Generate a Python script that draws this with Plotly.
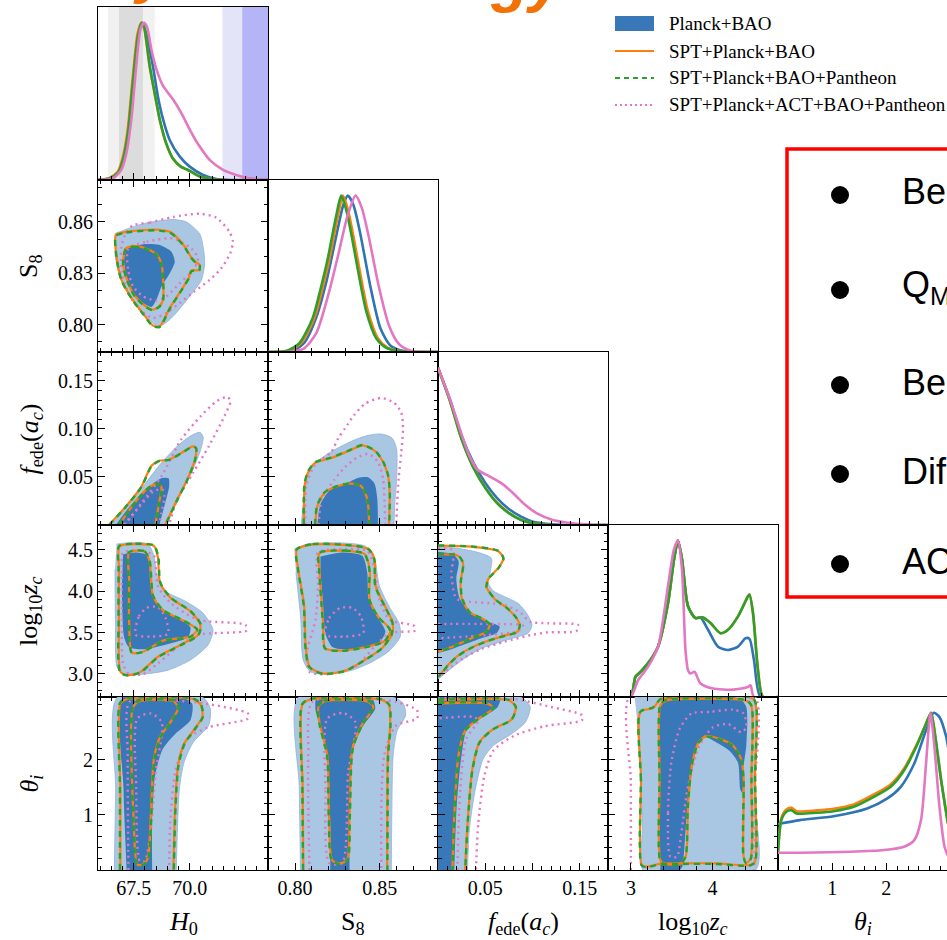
import plotly.graph_objects as go

# ======================= DATA =======================
# --- 1D marginal posteriors (x, normalised density) ---
H0_PDF_PB = [(65.9,0.0),(66.4,0.01),(66.8,0.045),(67.02,0.13),(67.24,0.3),(67.46,0.62),(67.69,0.92),(67.88,1.0),(68.02,0.95),(68.14,0.88),(68.36,0.72),(68.58,0.53),(68.81,0.385),(69.1,0.256),(69.55,0.15),(70.0,0.085),(70.6,0.032),(71.2,0.006),(71.8,0.0),(73.5,0.0)]
H0_PDF_SPT = [(65.9,0.0),(66.4,0.012),(66.77,0.05),(67.0,0.14),(67.22,0.31),(67.44,0.63),(67.67,0.93),(67.84,1.0),(67.96,0.97),(68.06,0.88),(68.21,0.72),(68.43,0.55),(68.66,0.38),(68.95,0.23),(69.25,0.135),(69.6,0.085),(69.9,0.065),(70.1,0.05),(70.4,0.025),(70.9,0.008),(71.5,0.0),(73.5,0.0)]
H0_PDF_PANT = [(65.9,0.0),(66.42,0.011),(66.79,0.045),(67.02,0.13),(67.24,0.3),(67.46,0.62),(67.69,0.92),(67.85,1.0),(67.97,0.97),(68.07,0.88),(68.22,0.72),(68.44,0.55),(68.67,0.38),(68.96,0.23),(69.26,0.135),(69.6,0.085),(69.9,0.065),(70.1,0.05),(70.4,0.025),(70.9,0.008),(71.5,0.0),(73.5,0.0)]
H0_PDF_ACT = [(65.9,0.0),(66.57,0.011),(66.94,0.064),(67.17,0.171),(67.39,0.385),(67.61,0.726),(67.8,0.96),(67.96,1.0),(68.1,0.97),(68.28,0.833),(68.51,0.705),(68.81,0.598),(69.25,0.513),(69.62,0.427),(70.0,0.321),(70.44,0.214),(70.89,0.128),(71.49,0.064),(72.08,0.032),(72.68,0.011),(73.5,0.0)]

S8_PDF_PB = [(0.784,0.0),(0.7985,0.008),(0.8055,0.06),(0.8125,0.22),(0.8185,0.45),(0.8245,0.75),(0.8285,0.94),(0.8312,1.0),(0.8345,0.94),(0.8385,0.76),(0.8445,0.42),(0.8505,0.15),(0.8565,0.04),(0.8635,0.008),(0.872,0.0),(0.8845,0.0)]
S8_PDF_SPT = [(0.784,0.0),(0.7955,0.006),(0.8036,0.057),(0.8115,0.22),(0.816,0.40),(0.82,0.58),(0.8253,0.87),(0.8283,1.0),(0.8312,0.91),(0.8345,0.74),(0.8372,0.58),(0.8431,0.26),(0.849,0.087),(0.8549,0.026),(0.8628,0.004),(0.869,0.0),(0.8845,0.0)]
S8_PDF_PANT = [(0.784,0.0),(0.7945,0.006),(0.8026,0.057),(0.8105,0.22),(0.815,0.40),(0.819,0.58),(0.8243,0.87),(0.8273,1.0),(0.8302,0.91),(0.8335,0.74),(0.8362,0.58),(0.8421,0.26),(0.848,0.087),(0.8539,0.026),(0.8618,0.004),(0.868,0.0),(0.8845,0.0)]
S8_PDF_ACT = [(0.784,0.0),(0.795,0.0),(0.805,0.02),(0.8125,0.12),(0.8195,0.36),(0.8255,0.62),(0.831,0.87),(0.8358,1.0),(0.8395,0.92),(0.8435,0.74),(0.8495,0.42),(0.8555,0.17),(0.8615,0.05),(0.868,0.01),(0.875,0.0),(0.8845,0.0)]

FEDE_PDF_PB = [(0.0,1.0),(0.0126,0.8),(0.0251,0.564),(0.0377,0.394),(0.0503,0.266),(0.0628,0.17),(0.0754,0.1),(0.088,0.053),(0.1006,0.021),(0.1173,0.006),(0.134,0.0),(0.18,0.0)]
FEDE_PDF_SPT = [(0.0,1.0),(0.0126,0.79),(0.0251,0.545),(0.0377,0.364),(0.0503,0.236),(0.0628,0.14),(0.0754,0.076),(0.088,0.033),(0.1006,0.011),(0.1215,0.0),(0.18,0.0)]
FEDE_PDF_PANT = [(0.0,1.0),(0.0126,0.79),(0.0251,0.543),(0.0377,0.362),(0.0503,0.234),(0.0628,0.138),(0.0754,0.074),(0.088,0.032),(0.1006,0.011),(0.1215,0.0),(0.18,0.0)]
FEDE_PDF_ACT = [(0.0,1.0),(0.0126,0.8),(0.0251,0.574),(0.0335,0.436),(0.0419,0.351),(0.0545,0.309),(0.067,0.266),(0.0796,0.202),(0.0922,0.128),(0.1048,0.074),(0.1215,0.032),(0.1425,0.011),(0.1634,0.002),(0.18,0.0)]

ZC_PDF_PB = [(2.72,0.0),(2.995,0.0),(3.056,0.129),(3.118,0.161),(3.209,0.215),(3.332,0.322),(3.454,0.601),(3.528,0.881),(3.576,1.0),(3.625,0.881),(3.699,0.58),(3.79,0.505),(3.85,0.51),(3.944,0.43),(4.066,0.322),(4.188,0.301),(4.311,0.322),(4.403,0.376),(4.451,0.372),(4.506,0.236),(4.586,0.0),(4.8,0.0)]
ZC_PDF_SPT = [(2.72,0.0),(2.995,0.0),(3.056,0.129),(3.118,0.161),(3.209,0.215),(3.332,0.322),(3.454,0.601),(3.528,0.881),(3.576,1.0),(3.625,0.881),(3.699,0.58),(3.79,0.505),(3.882,0.509),(3.974,0.473),(4.097,0.408),(4.188,0.43),(4.311,0.516),(4.433,0.644),(4.451,0.655),(4.494,0.537),(4.555,0.172),(4.617,0.0),(4.8,0.0)]
ZC_PDF_PANT = [(2.72,0.0),(2.995,0.0),(3.056,0.129),(3.118,0.161),(3.209,0.215),(3.332,0.322),(3.454,0.601),(3.528,0.881),(3.576,1.0),(3.625,0.881),(3.699,0.58),(3.79,0.505),(3.882,0.509),(3.974,0.473),(4.097,0.408),(4.188,0.43),(4.311,0.516),(4.433,0.644),(4.451,0.655),(4.494,0.537),(4.555,0.172),(4.617,0.0),(4.8,0.0)]
ZC_PDF_ACT = [(2.72,0.0),(2.995,0.0),(3.087,0.107),(3.209,0.193),(3.332,0.322),(3.454,0.709),(3.528,0.945),(3.576,1.0),(3.625,0.816),(3.668,0.3),(3.7,0.17),(3.729,0.15),(3.778,0.161),(3.852,0.086),(4.005,0.054),(4.25,0.047),(4.433,0.064),(4.464,0.075),(4.506,0.0),(4.8,0.0)]

TH_PDF_PB = [(0.0,0.292),(0.404,0.317),(1.025,0.342),(1.646,0.391),(2.019,0.455),(2.267,0.529),(2.516,0.677),(2.733,0.888),(2.876,1.0),(2.981,0.972),(3.106,0.846),(3.14,0.78)]
TH_PDF_SPT = [(0.0,0.11),(0.062,0.33),(0.155,0.385),(0.248,0.395),(0.342,0.374),(0.714,0.379),(1.025,0.389),(1.398,0.417),(1.77,0.48),(2.081,0.544),(2.329,0.645),(2.578,0.81),(2.733,0.93),(2.826,1.0),(2.888,0.888),(3.012,0.571),(3.137,0.296)]
TH_PDF_PANT = [(0.0,0.106),(0.062,0.317),(0.155,0.37),(0.248,0.38),(0.342,0.359),(0.714,0.364),(1.025,0.374),(1.398,0.402),(1.77,0.465),(2.081,0.529),(2.329,0.634),(2.578,0.803),(2.733,0.93),(2.826,1.0),(2.888,0.888),(3.012,0.571),(3.137,0.296)]
TH_PDF_ACT = [(0.0,0.11),(0.404,0.11),(1.335,0.116),(1.957,0.127),(2.329,0.148),(2.516,0.19),(2.64,0.317),(2.733,0.677),(2.814,1.0),(2.888,0.782),(2.981,0.402),(3.075,0.148),(3.143,0.085)]

# --- 2D contours: (x, y) vertices; PB = Planck+BAO, SPT = SPT+Planck+BAO,
#     PANT = SPT+Planck+BAO+Pantheon, ACT = SPT+Planck+ACT+BAO+Pantheon ---
H0S8_PB_2S = [(66.65,0.8532),(67.92,0.859),(69.26,0.8614),(69.85,0.86),(70.45,0.853),(70.6,0.8455),(70.67,0.8358),(70.52,0.826),(70.0,0.8165),(69.26,0.8049),(68.81,0.80),(68.51,0.7994),(68.07,0.8049),(67.47,0.8145),(66.87,0.828),(66.65,0.8416)]
H0S8_PB_1S = [(67.17,0.8445),(67.92,0.847),(68.66,0.8465),(69.18,0.8426),(69.33,0.8368),(69.11,0.83),(68.74,0.8223),(68.51,0.8145),(68.29,0.8103),(67.92,0.8126),(67.47,0.8184),(67.17,0.8281),(67.05,0.8377)]
H0S8_SPT_2S = [(66.7,0.8523),(67.17,0.8542),(67.92,0.8552),(68.51,0.8555),(69.11,0.8542),(69.4,0.8513),(69.78,0.8455),(70.07,0.8393),(70.3,0.8362),(70.45,0.8348),(70.42,0.8319),(70.07,0.8316),(69.97,0.8277),(69.63,0.8203),(69.11,0.8097),(68.66,0.799),(68.36,0.7994),(67.92,0.8064),(67.4,0.8155),(66.95,0.8261),(66.73,0.8397)]
H0S8_SPT_1S = [(67.14,0.8445),(67.47,0.8459),(67.92,0.8451),(68.51,0.8412),(68.74,0.8354),(68.81,0.8261),(68.81,0.8145),(68.66,0.811),(68.36,0.8087),(68.07,0.8103),(67.54,0.8169),(67.2,0.8261),(67.02,0.8358)]
H0S8_PANT_2S = [(66.7,0.8518),(67.17,0.8538),(67.92,0.8548),(68.51,0.8551),(69.11,0.8538),(69.4,0.8509),(69.78,0.8451),(70.07,0.8389),(70.3,0.8358),(70.45,0.8344),(70.42,0.8315),(70.07,0.8312),(69.97,0.8273),(69.63,0.82),(69.11,0.8094),(68.66,0.7987),(68.36,0.7991),(67.92,0.8061),(67.4,0.8152),(66.95,0.8258),(66.73,0.8394)]
H0S8_PANT_1S = [(67.14,0.8441),(67.47,0.8455),(67.92,0.8447),(68.51,0.8408),(68.74,0.835),(68.81,0.8258),(68.81,0.8142),(68.66,0.8107),(68.36,0.8084),(68.07,0.81),(67.54,0.8166),(67.2,0.8258),(67.02,0.8354)]
H0S8_ACT_2S = [(67.47,0.8581),(68.21,0.8596),(69.26,0.8629),(70.45,0.8648),(71.19,0.8625),(71.78,0.8542),(71.93,0.8484),(71.81,0.8416),(71.41,0.8329),(70.89,0.8261),(70.22,0.8194),(69.55,0.8126),(68.96,0.8068),(68.36,0.8039),(67.77,0.8087),(67.25,0.8184),(66.95,0.8319),(66.95,0.8455),(67.17,0.8542)]
H0S8_ACT_1S = [(67.25,0.8445),(68.07,0.8484),(69.26,0.8503),(70.07,0.8445),(70.37,0.8387),(70.15,0.8319),(69.55,0.8242),(68.96,0.8165),(68.51,0.8141),(67.92,0.8165),(67.47,0.8223),(67.25,0.8319)]

H0FEDE_PB_2S = [(66.52,0.0),(67.31,0.0226),(68.02,0.0435),(68.73,0.0644),(69.43,0.0818),(70.05,0.0929),(70.46,0.0964),(70.6,0.0915),(70.49,0.0783),(70.14,0.0574),(69.7,0.0365),(69.26,0.0157),(68.99,0.0)]
H0FEDE_PB_1S = [(66.7,0.0),(67.31,0.0191),(68.02,0.0365),(68.73,0.0487),(69.05,0.0487),(69.08,0.04),(68.9,0.0226),(68.64,0.0)]
H0FEDE_SPT_2S = [(66.39,0.0),(67.14,0.0191),(67.84,0.04),(68.29,0.0616),(68.64,0.0668),(69.08,0.0679),(69.61,0.0748),(70.14,0.0818),(70.28,0.08),(70.23,0.0679),(69.88,0.047),(69.43,0.0261),(68.9,0.0)]
H0FEDE_SPT_1S = [(66.84,0.0),(67.58,0.0244),(68.16,0.039),(68.55,0.0428),(68.73,0.04),(68.64,0.0244),(68.46,0.0)]
H0FEDE_PANT_2S = [(66.4,0.0),(67.15,0.0191),(67.85,0.04),(68.3,0.0614),(68.65,0.0666),(69.09,0.0677),(69.62,0.0746),(70.15,0.0816),(70.29,0.0798),(70.24,0.0677),(69.89,0.0468),(69.44,0.0259),(68.91,0.0)]
H0FEDE_PANT_1S = [(66.85,0.0),(67.59,0.0243),(68.17,0.0388),(68.56,0.0426),(68.74,0.0398),(68.65,0.0243),(68.47,0.0)]
H0FEDE_ACT_2S = [(67.1,0.0),(67.84,0.0226),(68.73,0.0505),(69.61,0.0887),(70.49,0.1131),(71.2,0.1288),(71.7,0.1333),(71.82,0.1288),(71.55,0.1131),(70.85,0.0818),(70.14,0.0539),(69.43,0.0261),(69.08,0.0)]
H0FEDE_ACT_1S = [(67.05,0.0),(67.76,0.0191),(68.37,0.0348),(68.76,0.0372),(68.87,0.0296),(68.73,0.0122),(68.64,0.0)]

S8FEDE_PB_2S = [(0.8037,0.0),(0.8057,0.0344),(0.8096,0.0604),(0.8195,0.0743),(0.8333,0.0871),(0.8431,0.0933),(0.851,0.0947),(0.8573,0.0906),(0.86,0.0795),(0.86,0.0482),(0.8589,0.0205),(0.8585,0.0)]
S8FEDE_PB_1S = [(0.8132,0.0),(0.8151,0.0222),(0.8214,0.0378),(0.8313,0.0441),(0.8372,0.0489),(0.8431,0.0496),(0.847,0.043),(0.8486,0.0274),(0.849,0.0)]
S8FEDE_SPT_2S = [(0.8053,0.0),(0.8057,0.0413),(0.8076,0.0545),(0.812,0.0649),(0.8214,0.0697),(0.8313,0.0767),(0.8401,0.0829),(0.8474,0.0767),(0.852,0.0656),(0.8549,0.0517),(0.8559,0.0344),(0.8555,0.0)]
S8FEDE_SPT_1S = [(0.812,0.0),(0.8132,0.0198),(0.8175,0.0337),(0.8254,0.0406),(0.8333,0.043),(0.8388,0.0406),(0.8421,0.0302),(0.8435,0.0153),(0.8437,0.0)]
S8FEDE_PANT_2S = [(0.8051,0.0),(0.8055,0.0415),(0.8074,0.0548),(0.8118,0.0652),(0.8212,0.07),(0.8311,0.077),(0.8399,0.0832),(0.8474,0.077),(0.8521,0.0658),(0.855,0.0517),(0.856,0.0344),(0.8557,0.0)]
S8FEDE_PANT_1S = [(0.8118,0.0),(0.813,0.0198),(0.8173,0.0338),(0.8252,0.0408),(0.8333,0.0432),(0.839,0.0408),(0.8423,0.0302),(0.8437,0.0153),(0.8439,0.0)]
S8FEDE_ACT_2S = [(0.8061,0.0),(0.8067,0.0413),(0.8116,0.0621),(0.8214,0.076),(0.8254,0.0899),(0.8297,0.101),(0.8348,0.1141),(0.8415,0.1263),(0.851,0.1322),(0.8585,0.1273),(0.8628,0.1169),(0.8638,0.1003),(0.8628,0.076),(0.8612,0.0482),(0.8604,0.0239),(0.8598,0.0)]
S8FEDE_ACT_1S = [(0.8139,0.0),(0.8159,0.0274),(0.8234,0.0475),(0.8297,0.0604),(0.8362,0.0697),(0.8431,0.0739),(0.849,0.0656),(0.852,0.0482),(0.8529,0.0239),(0.8533,0.0)]

H0ZC_PB_2S = [(66.73,4.569),(67.46,4.589),(68.14,4.569),(68.4,4.427),(68.54,4.183),(68.92,4.0),(69.81,3.878),(70.59,3.736),(71.04,3.533),(70.82,3.35),(70.03,3.167),(69.03,3.045),(67.91,2.996),(67.02,2.996),(66.75,3.085),(66.68,3.654),(66.66,4.264)]
H0ZC_PB_1S = [(67.02,4.447),(67.58,4.467),(68.14,4.427),(68.25,4.061),(68.58,3.837),(69.36,3.687),(70.03,3.565),(69.92,3.443),(69.03,3.362),(67.91,3.297),(67.29,3.321),(67.06,3.451),(66.97,4.061)]
H0ZC_SPT_2S = [(66.86,4.541),(67.58,4.569),(68.4,4.549),(68.58,4.407),(68.67,4.102),(69.14,3.919),(70.03,3.756),(70.48,3.593),(70.37,3.472),(69.59,3.35),(68.58,3.207),(67.8,3.024),(67.24,2.984),(66.91,3.024),(66.84,3.654),(66.84,4.264)]
H0ZC_SPT_1S = [(67.29,4.467),(67.98,4.48),(68.2,4.366),(68.36,3.939),(68.81,3.768),(69.7,3.646),(70.33,3.533),(70.03,3.451),(68.81,3.402),(67.91,3.268),(67.42,3.256),(67.29,3.654),(67.29,4.142)]
H0ZC_PANT_2S = [(66.84,4.545),(67.58,4.573),(68.41,4.553),(68.6,4.407),(68.69,4.102),(69.16,3.919),(70.05,3.756),(70.5,3.593),(70.39,3.47),(69.6,3.346),(68.59,3.203),(67.81,3.02),(67.24,2.98),(66.89,3.02),(66.82,3.654),(66.82,4.264)]
H0ZC_PANT_1S = [(67.28,4.47),(67.98,4.483),(68.21,4.366),(68.37,3.939),(68.82,3.768),(69.71,3.646),(70.34,3.533),(70.04,3.449),(68.82,3.4),(67.91,3.265),(67.41,3.253),(67.28,3.654),(67.28,4.142)]
H0ZC_ACT_2S = [(67.02,4.467),(67.91,4.488),(68.4,4.427),(68.58,4.061),(69.14,3.858),(70.37,3.654),(72.49,3.593),(72.54,3.524),(70.37,3.472),(69.48,3.329),(68.58,3.126),(67.91,2.996),(67.29,2.996),(67.02,3.126),(66.97,3.654),(66.97,4.224)]
H0ZC_ACT_1S = [(67.58,3.472),(67.73,3.695),(68.07,3.797),(68.58,3.809),(68.92,3.675),(69.03,3.484),(68.25,3.451)]

S8ZC_PB_2S = [(0.7996,4.508),(0.8077,4.573),(0.8296,4.581),(0.8418,4.541),(0.847,4.386),(0.8499,4.061),(0.8558,3.809),(0.8616,3.606),(0.8622,3.451),(0.8558,3.28),(0.8456,3.146),(0.8339,3.045),(0.8194,2.996),(0.8092,3.024),(0.8048,3.167),(0.8034,3.654),(0.8005,4.224)]
S8ZC_PB_1S = [(0.815,4.419),(0.8281,4.467),(0.8397,4.427),(0.8427,4.224),(0.8435,3.898),(0.8485,3.695),(0.8534,3.512),(0.8493,3.37),(0.8354,3.297),(0.8223,3.321),(0.8179,3.492),(0.8165,3.858),(0.815,4.224)]
S8ZC_SPT_2S = [(0.801,4.5),(0.8106,4.565),(0.8296,4.557),(0.8435,4.508),(0.847,4.386),(0.8476,4.061),(0.8534,3.809),(0.8578,3.614),(0.8572,3.472),(0.8514,3.309),(0.8412,3.167),(0.8296,3.037),(0.8165,3.004),(0.8086,3.085),(0.8063,3.329),(0.8054,3.817),(0.8019,4.264)]
S8ZC_SPT_1S = [(0.8144,4.459),(0.8296,4.488),(0.8412,4.447),(0.8441,4.264),(0.8441,3.898),(0.8493,3.687),(0.8563,3.533),(0.8534,3.402),(0.8412,3.321),(0.8266,3.28),(0.8179,3.309),(0.8165,3.654),(0.8144,4.264)]
S8ZC_PANT_2S = [(0.8008,4.503),(0.8104,4.568),(0.8294,4.56),(0.8433,4.511),(0.8468,4.386),(0.8474,4.061),(0.8532,3.809),(0.8576,3.614),(0.857,3.47),(0.8512,3.306),(0.841,3.164),(0.8294,3.034),(0.8163,3.0),(0.8084,3.082),(0.8061,3.329),(0.8052,3.817),(0.8017,4.264)]
S8ZC_PANT_1S = [(0.8142,4.462),(0.8294,4.491),(0.841,4.45),(0.8439,4.264),(0.8439,3.898),(0.8491,3.687),(0.8561,3.533),(0.8532,3.4),(0.841,3.318),(0.8264,3.277),(0.8177,3.306),(0.8163,3.654),(0.8142,4.264)]
S8ZC_ACT_2S = [(0.8136,4.467),(0.8296,4.508),(0.8427,4.488),(0.847,4.264),(0.8499,3.898),(0.8558,3.654),(0.8703,3.581),(0.8709,3.524),(0.8558,3.492),(0.847,3.329),(0.8354,3.085),(0.8179,2.996),(0.8086,3.024),(0.8069,3.248),(0.8121,3.654),(0.8136,4.061)]
S8ZC_ACT_1S = [(0.8179,3.472),(0.8202,3.675),(0.8267,3.797),(0.8339,3.797),(0.8389,3.695),(0.8403,3.492),(0.8296,3.451)]

FEDEZC_PB_2S = [(0.0,4.538),(0.0212,4.518),(0.0459,4.457),(0.0565,4.397),(0.0554,4.236),(0.053,4.107),(0.0582,4.006),(0.0706,3.933),(0.0847,3.853),(0.0939,3.732),(0.0995,3.591),(0.0953,3.49),(0.0847,3.45),(0.0671,3.389),(0.0459,3.308),(0.0282,3.188),(0.0141,3.067),(0.0035,2.966),(0.0,2.938)]
FEDEZC_PB_1S = [(0.0,4.478),(0.0159,4.445),(0.0219,4.357),(0.0194,4.155),(0.0229,3.913),(0.0353,3.732),(0.053,3.631),(0.0653,3.571),(0.0618,3.49),(0.0459,3.43),(0.0282,3.357),(0.0141,3.296),(0.0,3.248)]
FEDEZC_SPT_2S = [(0.0,4.55),(0.0353,4.538),(0.0635,4.486),(0.0692,4.397),(0.0642,4.284),(0.0537,4.155),(0.0512,4.054),(0.06,3.905),(0.0724,3.8),(0.0819,3.691),(0.0865,3.591),(0.084,3.51),(0.0706,3.462),(0.053,3.401),(0.0353,3.317),(0.0212,3.22),(0.0106,3.107),(0.0035,3.006),(0.0,2.966)]
FEDEZC_SPT_1S = [(0.0,4.445),(0.0212,4.429),(0.0265,4.336),(0.024,4.115),(0.0254,3.905),(0.0335,3.744),(0.0494,3.651),(0.0547,3.591),(0.0512,3.51),(0.0353,3.43),(0.0176,3.341),(0.0,3.268)]
FEDEZC_PANT_2S = [(0.0,4.553),(0.0353,4.541),(0.0637,4.488),(0.0694,4.397),(0.0644,4.284),(0.0539,4.155),(0.0514,4.054),(0.0602,3.905),(0.0726,3.8),(0.0821,3.691),(0.0867,3.591),(0.0842,3.508),(0.0708,3.46),(0.0532,3.399),(0.0355,3.315),(0.0214,3.218),(0.0108,3.105),(0.0037,3.004),(0.0,2.963)]
FEDEZC_PANT_1S = [(0.0,4.448),(0.0214,4.432),(0.0267,4.336),(0.0242,4.115),(0.0256,3.905),(0.0337,3.744),(0.0496,3.651),(0.0549,3.591),(0.0514,3.508),(0.0355,3.428),(0.0178,3.339),(0.0,3.265)]
FEDEZC_ACT_2S = [(0.0,4.518),(0.0159,4.498),(0.0159,4.357),(0.0141,4.236),(0.0176,3.953),(0.0219,3.893),(0.0706,3.833),(0.0882,3.732),(0.0971,3.631),(0.1165,3.611),(0.1483,3.591),(0.1465,3.518),(0.1165,3.502),(0.0988,3.47),(0.0706,3.389),(0.0459,3.3),(0.0282,3.2),(0.0141,3.087),(0.0035,2.986),(0.0,2.966)]
FEDEZC_ACT_1S = [(0.0,3.603),(0.053,3.603),(0.09,3.583),(0.0847,3.518),(0.053,3.47),(0.0,3.43)]

H0TH_PB_2S = [(66.63,0.0),(66.69,1.47),(66.77,3.14),(70.57,3.14),(70.92,2.93),(70.84,2.62),(70.16,2.32),(69.75,1.96),(69.54,1.47),(69.4,0.0)]
H0TH_PB_1S = [(67.18,0.0),(67.04,1.47),(67.04,3.14),(69.62,3.14),(70.11,3.02),(70.03,2.72),(69.35,2.47),(68.8,2.2),(68.45,1.71),(68.32,0.86),(68.32,0.0)]
H0TH_SPT_2S = [(66.9,0.0),(66.9,1.5),(66.9,3.02),(67.18,3.1),(70.16,3.1),(70.49,3.0),(70.57,2.78),(70.22,2.56),(69.75,2.29),(69.48,1.9),(69.35,1.17),(69.27,0.0)]
H0TH_SPT_1S = [(67.66,0.1),(67.5,0.86),(67.45,2.93),(67.72,3.06),(69.29,3.06),(69.48,2.93),(69.13,2.68),(68.67,2.41),(68.4,2.02),(68.26,0.98),(68.13,0.22),(67.91,0.1)]
H0TH_PANT_2S = [(66.88,0.0),(66.88,1.5),(66.88,3.03),(67.17,3.11),(70.17,3.11),(70.5,3.01),(70.59,2.78),(70.24,2.56),(69.77,2.29),(69.5,1.9),(69.37,1.17),(69.29,0.0)]
H0TH_PANT_1S = [(67.65,0.09),(67.49,0.86),(67.44,2.93),(67.71,3.07),(69.3,3.07),(69.5,2.93),(69.15,2.68),(68.69,2.41),(68.42,2.02),(68.28,0.98),(68.15,0.21),(67.91,0.09)]
H0TH_ACT_2S = [(67.26,0.0),(67.23,2.08),(67.31,3.05),(69.08,3.08),(70.7,3.02),(72.6,2.84),(72.6,2.75),(70.84,2.59),(69.89,2.38),(69.35,1.77),(69.13,0.86),(69.08,0.0)]
H0TH_ACT_1S = [(67.77,0.16),(67.61,1.47),(67.66,2.75),(68.26,2.84),(68.75,2.68),(68.48,1.77),(68.21,0.56),(67.99,0.16)]

S8TH_PB_2S = [(0.8032,0.0),(0.8025,1.5),(0.8021,3.14),(0.858,3.14),(0.864,3.02),(0.8654,2.81),(0.8604,2.53),(0.858,2.08),(0.8572,1.0),(0.8569,0.0)]
S8TH_PB_1S = [(0.8208,0.0),(0.8208,0.86),(0.8191,2.08),(0.8145,2.62),(0.812,2.93),(0.813,3.14),(0.8449,3.14),(0.8474,2.93),(0.8403,2.62),(0.8343,2.2),(0.8322,1.17),(0.8322,0.0)]
S8TH_SPT_2S = [(0.8049,0.0),(0.8045,1.5),(0.8042,2.99),(0.8085,3.09),(0.8509,3.09),(0.8555,2.99),(0.8562,2.62),(0.8548,2.08),(0.8545,1.0),(0.8544,0.0)]
S8TH_SPT_1S = [(0.8138,2.96),(0.8173,3.06),(0.8428,3.06),(0.8463,2.96),(0.8392,2.62),(0.8339,2.2),(0.8322,0.98),(0.8307,0.18),(0.8261,0.12),(0.8219,0.18),(0.8201,0.98),(0.8191,2.08),(0.8148,2.62)]
S8TH_PANT_2S = [(0.8047,0.0),(0.8043,1.5),(0.804,3.0),(0.8083,3.1),(0.8511,3.1),(0.8557,3.0),(0.8564,2.62),(0.855,2.08),(0.8547,1.0),(0.8546,0.0)]
S8TH_PANT_1S = [(0.8136,2.97),(0.8171,3.07),(0.843,3.07),(0.8465,2.97),(0.8394,2.62),(0.8341,2.2),(0.8324,0.98),(0.8309,0.17),(0.8261,0.11),(0.8217,0.17),(0.8199,0.98),(0.8189,2.08),(0.8146,2.62)]
S8TH_ACT_2S = [(0.8085,0.0),(0.8078,2.08),(0.8102,3.05),(0.8385,3.11),(0.8597,3.05),(0.8721,2.9),(0.8721,2.75),(0.8597,2.62),(0.8527,2.08),(0.851,0.0)]
S8TH_ACT_1S = [(0.8201,0.13),(0.818,1.47),(0.8191,2.75),(0.8286,2.85),(0.8357,2.68),(0.8314,1.77),(0.8279,0.13)]

FEDETH_PB_2S = [(0.0,0.0),(0.0,3.14),(0.0874,3.14),(0.0976,2.96),(0.0925,2.68),(0.0778,2.47),(0.0587,2.26),(0.0479,2.02),(0.0396,1.47),(0.0332,0.74),(0.0313,0.0)]
FEDETH_PB_1S = [(0.0,0.0),(0.0,3.14),(0.0657,3.14),(0.0632,2.96),(0.0459,2.76),(0.0313,2.59),(0.0249,2.08),(0.0198,1.17),(0.0172,0.0)]
FEDETH_SPT_2S = [(0.0,3.08),(0.0746,3.08),(0.0823,2.96),(0.0778,2.73),(0.0587,2.56),(0.044,2.32),(0.0364,1.83),(0.0313,0.86),(0.0287,0.0)]
FEDETH_SPT_1S = [(0.0,3.02),(0.0523,3.02),(0.0587,2.94),(0.044,2.76),(0.0287,2.53),(0.0217,2.08),(0.0172,0.98),(0.0153,0.0)]
FEDETH_PANT_2S = [(0.0,3.09),(0.0748,3.09),(0.0825,2.96),(0.078,2.73),(0.0589,2.56),(0.0442,2.32),(0.0366,1.83),(0.0315,0.86),(0.0289,0.0)]
FEDETH_PANT_1S = [(0.0,3.03),(0.0525,3.03),(0.0589,2.94),(0.0442,2.76),(0.0289,2.53),(0.0219,2.08),(0.0174,0.98),(0.0155,0.0)]
FEDETH_ACT_2S = [(0.0,3.11),(0.081,3.1),(0.1193,2.96),(0.1525,2.81),(0.1525,2.72),(0.1129,2.61),(0.081,2.44),(0.0587,2.17),(0.0491,1.71),(0.0427,0.86),(0.0402,0.0)]
FEDETH_ACT_1S = [(0.0204,0.0),(0.0236,1.47),(0.03,2.38),(0.0427,2.72),(0.0364,2.78),(0.0,2.75)]

ZCTH_PB_2S = [(3.046,3.14),(4.494,3.14),(4.543,2.93),(4.514,2.26),(4.535,1.04),(4.526,0.0),(3.148,0.0),(3.14,0.73),(3.116,1.95),(3.075,2.74)]
ZCTH_PB_1S = [(3.36,0.0),(3.352,1.65),(3.36,2.99),(3.434,3.11),(4.331,3.11),(4.412,2.96),(4.412,2.26),(4.38,1.89),(4.363,1.4),(4.339,1.46),(4.31,1.95),(4.208,2.16),(4.005,2.35),(3.923,2.41),(3.841,2.35),(3.78,2.07),(3.711,1.46),(3.67,0.73),(3.629,0.06),(3.597,0.0)]
ZCTH_SPT_2S = [(3.132,0.09),(3.124,1.65),(3.116,2.87),(3.271,2.94),(3.373,3.1),(4.494,3.11),(4.535,2.93),(4.518,1.65),(4.518,0.15),(4.453,0.09),(4.045,0.12),(3.638,0.12),(3.352,0.11),(3.189,0.06)]
ZCTH_SPT_1S = [(3.36,0.18),(3.352,1.65),(3.36,2.99),(3.422,3.07),(4.412,3.07),(4.474,2.98),(4.474,1.65),(4.465,0.21),(4.412,0.13),(4.38,0.24),(4.38,1.65),(4.351,2.01),(4.249,2.26),(4.086,2.38),(3.923,2.43),(3.833,2.33),(3.752,1.95),(3.699,1.16),(3.67,0.24),(3.597,0.11),(3.413,0.11)]
ZCTH_PANT_2S = [(3.13,0.09),(3.122,1.65),(3.114,2.87),(3.269,2.95),(3.371,3.11),(4.496,3.12),(4.537,2.93),(4.52,1.65),(4.52,0.15),(4.455,0.08),(4.045,0.11),(3.638,0.11),(3.352,0.1),(3.187,0.05)]
ZCTH_PANT_1S = [(3.358,0.18),(3.35,1.65),(3.358,2.99),(3.42,3.08),(4.414,3.08),(4.476,2.98),(4.476,1.65),(4.467,0.2),(4.412,0.12),(4.378,0.24),(4.378,1.65),(4.349,2.01),(4.247,2.25),(4.086,2.37),(3.923,2.42),(3.831,2.32),(3.75,1.95),(3.697,1.16),(3.668,0.24),(3.597,0.1),(3.413,0.1)]
ZCTH_ACT_2S = [(3.0,0.0),(3.0,1.6),(3.0,3.2),(4.5,3.2),(4.52,1.6),(4.51,0.0)]
ZCTH_ACT_1S = [(3.483,0.24),(3.454,1.04),(3.495,1.95),(3.597,2.56),(3.74,2.84),(3.964,2.87),(4.249,2.91),(4.38,2.84),(4.412,2.59),(4.351,2.5),(4.188,2.65),(4.005,2.59),(3.841,2.26),(3.699,1.52),(3.617,0.67),(3.564,0.24)]

# Reference bands in the H0 marginal (2-sigma, 1-sigma)
H0_BAND_PLANCK = [(66.35, 68.43), (66.84, 67.91)]
H0_BAND_SHOES = [(71.46, 74.5), (72.35, 74.5)]

SERIES_NAMES = ["Planck+BAO", "SPT+Planck+BAO", "SPT+Planck+BAO+Pantheon", "SPT+Planck+ACT+BAO+Pantheon"]
BULLET_TEXTS = ["Be", "Q<sub>M</sub>", "Be", "Dif", "AC"]
X_TITLES = ["<i>H</i><sub>0</sub>", "S<sub>8</sub>", "<i>f</i><sub>ede</sub>(<i>a<sub>c</sub></i>)",
            "log<sub>10</sub><i>z<sub>c</sub></i>", "<i>θ<sub>i</sub></i>"]

# ======================= LAYOUT / STYLE =======================
FIG_W, FIG_H = 947, 940
COL_PX = [98, 268, 438, 608, 778, 947]
ROW_PX = [7, 180, 352, 525, 697, 870]
RANGES = [[65.9, 73.5], [0.784, 0.8845], [0.0, 0.18], [2.72, 4.8], [0.0, 3.12]]
XTICKS = {0: ([67.5, 70.0], ["67.5", "70.0"], 0.5),
          1: ([0.80, 0.85], ["0.80", "0.85"], 0.01),
          2: ([0.05, 0.10, 0.15], ["0.05", "", "0.15"], 0.01),
          3: ([3, 4], ["3", "4"], 0.2),
          4: ([1, 2], ["1", "2"], 0.2)}
YTICKS = {1: ([0.80, 0.83, 0.86], ["0.80", "0.83", "0.86"], 0.01),
          2: ([0.05, 0.10, 0.15], ["0.05", "0.10", "0.15"], 0.01),
          3: ([3.0, 3.5, 4.0, 4.5], ["3.0", "3.5", "4.0", "4.5"], 0.1),
          4: ([1, 2], ["1", "2"], 0.2)}
Y_RANGES_ROW = {1: [0.784, 0.8845], 2: [0.0, 0.18], 3: [2.72, 4.8], 4: [0.0, 3.14]}

C_LIGHT = "#a9c6e3"
C_LIGHT_EDGE = "#90b4da"
C_DARK = "#3878b8"
C_BLUE = "#2f74b5"
C_OR = "#ff7f0e"
C_GR = "#2ca02c"
C_PK = "#e377c2"
SERIF = "Liberation Serif"

PDFS = {0: (H0_PDF_PB, H0_PDF_SPT, H0_PDF_PANT, H0_PDF_ACT),
        1: (S8_PDF_PB, S8_PDF_SPT, S8_PDF_PANT, S8_PDF_ACT),
        2: (FEDE_PDF_PB, FEDE_PDF_SPT, FEDE_PDF_PANT, FEDE_PDF_ACT),
        3: (ZC_PDF_PB, ZC_PDF_SPT, ZC_PDF_PANT, ZC_PDF_ACT),
        4: (TH_PDF_PB, TH_PDF_SPT, TH_PDF_PANT, TH_PDF_ACT)}
CONTOURS = {
    (1, 0): (H0S8_PB_2S, H0S8_PB_1S, H0S8_SPT_2S, H0S8_SPT_1S, H0S8_PANT_2S, H0S8_PANT_1S, H0S8_ACT_2S, H0S8_ACT_1S),
    (2, 0): (H0FEDE_PB_2S, H0FEDE_PB_1S, H0FEDE_SPT_2S, H0FEDE_SPT_1S, H0FEDE_PANT_2S, H0FEDE_PANT_1S, H0FEDE_ACT_2S, H0FEDE_ACT_1S),
    (2, 1): (S8FEDE_PB_2S, S8FEDE_PB_1S, S8FEDE_SPT_2S, S8FEDE_SPT_1S, S8FEDE_PANT_2S, S8FEDE_PANT_1S, S8FEDE_ACT_2S, S8FEDE_ACT_1S),
    (3, 0): (H0ZC_PB_2S, H0ZC_PB_1S, H0ZC_SPT_2S, H0ZC_SPT_1S, H0ZC_PANT_2S, H0ZC_PANT_1S, H0ZC_ACT_2S, H0ZC_ACT_1S),
    (3, 1): (S8ZC_PB_2S, S8ZC_PB_1S, S8ZC_SPT_2S, S8ZC_SPT_1S, S8ZC_PANT_2S, S8ZC_PANT_1S, S8ZC_ACT_2S, S8ZC_ACT_1S),
    (3, 2): (FEDEZC_PB_2S, FEDEZC_PB_1S, FEDEZC_SPT_2S, FEDEZC_SPT_1S, FEDEZC_PANT_2S, FEDEZC_PANT_1S, FEDEZC_ACT_2S, FEDEZC_ACT_1S),
    (4, 0): (H0TH_PB_2S, H0TH_PB_1S, H0TH_SPT_2S, H0TH_SPT_1S, H0TH_PANT_2S, H0TH_PANT_1S, H0TH_ACT_2S, H0TH_ACT_1S),
    (4, 1): (S8TH_PB_2S, S8TH_PB_1S, S8TH_SPT_2S, S8TH_SPT_1S, S8TH_PANT_2S, S8TH_PANT_1S, S8TH_ACT_2S, S8TH_ACT_1S),
    (4, 2): (FEDETH_PB_2S, FEDETH_PB_1S, FEDETH_SPT_2S, FEDETH_SPT_1S, FEDETH_PANT_2S, FEDETH_PANT_1S, FEDETH_ACT_2S, FEDETH_ACT_1S),
    (4, 3): (ZCTH_PB_2S, ZCTH_PB_1S, ZCTH_SPT_2S, ZCTH_SPT_1S, ZCTH_PANT_2S, ZCTH_PANT_1S, ZCTH_ACT_2S, ZCTH_ACT_1S),
}


def px_x(p):
    return p / FIG_W


def px_y(p):
    return 1 - p / FIG_H


fig = go.Figure()
layout = {}
annotations = []
shapes = []


def axis_name(prefix, k):
    return prefix if k == 1 else f"{prefix}{k}"


def base_axis(dom, rng, anchor):
    return dict(domain=dom, range=rng, anchor=anchor, showline=True, linecolor="black", linewidth=1.2,
                showgrid=False, zeroline=False, fixedrange=True,
                tickfont=dict(family=SERIF, size=20, color="black"))


def tick_axis(ax, spec, labels, mirror_ticks):
    vals, text, minor = spec
    ax.update(ticks="inside", ticklen=7, tickwidth=1, tickcolor="black", tickmode="array",
              tickvals=vals, ticktext=text, showticklabels=labels,
              mirror="allticks" if mirror_ticks else True,
              minor=dict(ticks="inside", ticklen=3.5, tickwidth=1, tickcolor="black",
                         tickmode="linear", tick0=0, dtick=minor, showgrid=False))
    return ax


def on_edge(pt, xr, yr):
    tx = (xr[1] - xr[0]) * 0.01
    ty = (yr[1] - yr[0]) * 0.01
    x, y = pt
    return x <= xr[0] + tx or x >= xr[1] - tx or y <= yr[0] + ty or y >= yr[1] - ty


k = 0
for r in range(5):
    for c in range(r + 1):
        k += 1
        xa, ya = (f"x{k}", f"y{k}") if k > 1 else ("x", "y")
        xdom = [px_x(COL_PX[c]), min(1.0, px_x(COL_PX[c + 1]))]
        ydom = [px_y(ROW_PX[r + 1]), px_y(ROW_PX[r])]
        xr = RANGES[c]
        x_ax = base_axis(xdom, xr, ya)
        if c == r:
            tick_axis(x_ax, XTICKS[c], r == 4, False)
            y_ax = base_axis(ydom, [0, 1.1], xa)
            y_ax.update(ticks="", showticklabels=False, mirror=True)
            layout[axis_name("xaxis", k)] = x_ax
            layout[axis_name("yaxis", k)] = y_ax
            cols = [C_BLUE, C_OR, C_GR, C_PK]
            if c == 0:
                for band, fills in ((H0_BAND_PLANCK, ("#f1f1f1", "#dcdcdc")), (H0_BAND_SHOES, ("#e4e4f9", "#b4b4f6"))):
                    for (lo, hi), fc in zip(band, fills):
                        shapes.append(dict(type="rect", xref=xa, yref=ya, x0=lo, x1=hi, y0=0, y1=1.1,
                                           fillcolor=fc, line=dict(width=0), layer="below"))
            for pdf, col in zip(PDFS[c], cols):
                fig.add_trace(go.Scatter(x=[p[0] for p in pdf], y=[p[1] for p in pdf], mode="lines",
                                         line=dict(color=col, width=2.6, shape="spline", smoothing=0.7),
                                         xaxis=xa, yaxis=ya, showlegend=False, hoverinfo="skip"))
        else:
            yr = Y_RANGES_ROW[r]
            tick_axis(x_ax, XTICKS[c], r == 4, True)
            y_ax = base_axis(ydom, yr, xa)
            tick_axis(y_ax, YTICKS[r], c == 0, True)
            layout[axis_name("xaxis", k)] = x_ax
            layout[axis_name("yaxis", k)] = y_ax
            pb2, pb1, s2, s1, p2, p1, a2, a1 = CONTOURS[(r, c)]
            for pts, fc, lc, lw in ((pb2, C_LIGHT, C_LIGHT_EDGE, 0.8), (pb1, C_DARK, C_DARK, 0)):
                fig.add_trace(go.Scatter(x=[p[0] for p in pts], y=[p[1] for p in pts], mode="lines",
                                         fill="toself", fillcolor=fc,
                                         line=dict(color=lc, width=lw, shape="spline", smoothing=0.7),
                                         xaxis=xa, yaxis=ya, showlegend=False, hoverinfo="skip"))
            for pts, col, dash, lw in ((a2, C_PK, "2px,4px", 2.4), (a1, C_PK, "2px,4px", 2.4),
                                       (s2, C_OR, None, 2.2), (s1, C_OR, None, 2.2),
                                       (p2, C_GR, "6px,5px", 2.4), (p1, C_GR, "6px,5px", 2.4)):
                xs = [p[0] for p in pts]
                ys = [p[1] for p in pts]
                if not on_edge(pts[0], xr, yr):
                    xs.append(xs[0])
                    ys.append(ys[0])
                ln = dict(color=col, width=lw, shape="spline", smoothing=0.7)
                if dash:
                    ln["dash"] = dash
                fig.add_trace(go.Scatter(x=xs, y=ys, mode="lines", line=ln, xaxis=xa, yaxis=ya,
                                         showlegend=False, hoverinfo="skip"))

# axis titles
for i, t in enumerate(X_TITLES):
    annotations.append(dict(text=t, xref="paper", yref="paper", x=px_x(COL_PX[i] + 85),
                            y=px_y(923), showarrow=False, font=dict(family=SERIF, size=26, color="black"),
                            xanchor="center", yanchor="middle"))
for r in range(1, 5):
    annotations.append(dict(text=X_TITLES[r], xref="paper", yref="paper", x=px_x(30),
                            y=px_y((ROW_PX[r] + ROW_PX[r + 1]) / 2), showarrow=False, textangle=-90,
                            font=dict(family=SERIF, size=26, color="black"), xanchor="center", yanchor="middle"))

# legend (drawn manually to match the matplotlib-style legend)
LEG_Y = [23, 51, 78, 105]
shapes.append(dict(type="rect", xref="paper", yref="paper", x0=px_x(615), x1=px_x(654), y0=px_y(31), y1=px_y(16),
                   fillcolor=C_DARK, line=dict(width=0)))
for yy, col, dash in ((LEG_Y[1], C_OR, "solid"), (LEG_Y[2], C_GR, "5px,4px"), (LEG_Y[3], C_PK, "2px,3px")):
    shapes.append(dict(type="line", xref="paper", yref="paper", x0=px_x(615), x1=px_x(654), y0=px_y(yy), y1=px_y(yy),
                       line=dict(color=col, width=2.2, dash=dash)))
for yy, name in zip(LEG_Y, SERIES_NAMES):
    annotations.append(dict(text=name, xref="paper", yref="paper", x=px_x(667), y=px_y(yy), showarrow=False,
                            xanchor="left", yanchor="middle", font=dict(family=SERIF, size=19, color="black")))

# red text box on the right (slide overlay)
shapes.append(dict(type="rect", xref="paper", yref="paper", x0=px_x(787), x1=px_x(990), y0=px_y(597), y1=px_y(149),
                   line=dict(color="#ff0000", width=3.5), fillcolor="rgba(0,0,0,0)"))
BULLET_Y = [195, 290, 385, 474, 564]
for yy, t in zip(BULLET_Y, BULLET_TEXTS):
    shapes.append(dict(type="circle", xref="paper", yref="paper", x0=px_x(831), x1=px_x(849), y0=px_y(yy + 9),
                       y1=px_y(yy - 9), fillcolor="black", line=dict(width=0)))
    annotations.append(dict(text=t, xref="paper", yref="paper", x=px_x(900), y=px_y(yy - 3), showarrow=False,
                            xanchor="left", yanchor="middle", font=dict(family="Liberation Sans", size=36, color="black")))

# partially visible slide title (only the descenders show)
annotations.append(dict(text="y", xref="paper", yref="paper", x=px_x(153), y=px_y(6), showarrow=False,
                        xanchor="center", yanchor="bottom",
                        font=dict(family="Liberation Sans", size=62, color="#f37206", weight="bold", style="italic")))
annotations.append(dict(text="gy", xref="paper", yref="paper", x=px_x(528), y=px_y(15), showarrow=False,
                        xanchor="center", yanchor="bottom",
                        font=dict(family="Liberation Sans", size=62, color="#f37206", weight="bold", style="italic")))

fig.update_layout(width=FIG_W, height=FIG_H, margin=dict(l=0, r=0, t=0, b=0), paper_bgcolor="white",
                  plot_bgcolor="white", showlegend=False, annotations=annotations, shapes=shapes, **layout)
fig.write_html("out.html")
